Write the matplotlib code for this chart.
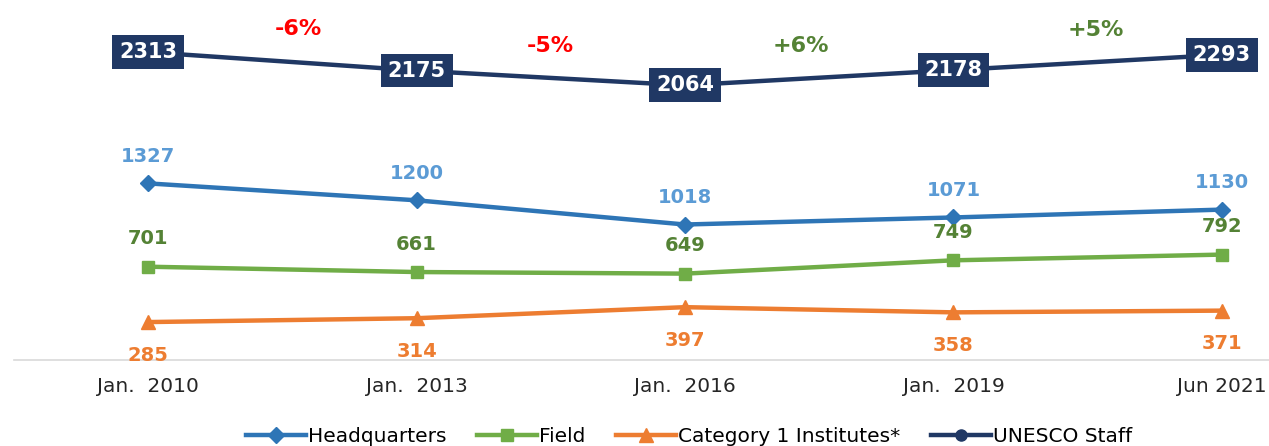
import matplotlib.pyplot as plt

periods = ["Jan.  2010", "Jan.  2013", "Jan.  2016", "Jan.  2019", "Jun 2021"]
headquarters = [1327, 1200, 1018, 1071, 1130]
field = [701, 661, 649, 749, 792]
institutes = [285, 314, 397, 358, 371]
staff = [2313, 2175, 2064, 2178, 2293]
changes = ["-6%", "-5%", "+6%", "+5%"]

NAVY = "#203864"
BLUE = "#2E75B6"
LBLUE = "#5B9BD5"
GREEN = "#70AD47"
DGREEN = "#548235"
ORANGE = "#ED7D31"
RED = "#FF0000"

plt.rcParams["font.family"] = ["DejaVu Sans"]

W, H = 1269, 446
fig = plt.figure(figsize=(W / 100, H / 100), dpi=100)
# plot area runs past the right edge of the picture, as in the source
ax = fig.add_axes([14 / W, (H - 360) / H, 1342 / W, 360 / H])

x = list(range(len(periods)))
ax.set_xlim(-0.5, len(periods) - 0.5)
ax.set_ylim(0, 2705)

ax.plot(x, headquarters, color=BLUE, lw=3.2, marker="D", ms=8, label="Headquarters")
ax.plot(x, field, color=GREEN, lw=3.2, marker="s", ms=9, label="Field")
ax.plot(x, institutes, color=ORANGE, lw=3.2, marker="^", ms=10, label="Category 1 Institutes*")
ax.plot(x, staff, color=NAVY, lw=3.2, marker="o", ms=8, label="UNESCO Staff")

for i in x:
    ax.annotate(str(headquarters[i]), (i, headquarters[i]), xytext=(0, 27),
                textcoords="offset pixels", ha="center", va="center",
                color=LBLUE, fontsize=14, fontweight="bold")
    ax.annotate(str(field[i]), (i, field[i]), xytext=(0, 28),
                textcoords="offset pixels", ha="center", va="center",
                color=DGREEN, fontsize=14, fontweight="bold")
    ax.annotate(str(institutes[i]), (i, institutes[i]), xytext=(0, -33),
                textcoords="offset pixels", ha="center", va="center",
                color=ORANGE, fontsize=14, fontweight="bold")
    ax.text(i, staff[i], str(staff[i]), ha="center", va="center", color="white",
            fontsize=15, fontweight="bold", zorder=5,
            bbox=dict(boxstyle="square,pad=0.33", fc=NAVY, ec="none"))

offs = [0.06, 0.0, -0.07, 0.03]
for i, lab in enumerate(changes):
    col = RED if lab.startswith("-") else DGREEN
    ax.annotate(lab, (i + 0.5 + offs[i], (staff[i] + staff[i + 1]) / 2), xytext=(0, 32),
                textcoords="offset pixels", ha="center", va="center",
                color=col, fontsize=16, fontweight="bold")

for s in ["top", "right", "left"]:
    ax.spines[s].set_visible(False)
ax.spines["bottom"].set_color("#D9D9D9")
ax.spines["bottom"].set_linewidth(1.2)
ax.set_yticks([])
ax.set_xticks(x)
ax.set_xticklabels(periods, fontsize=14.5, color="#262626")
ax.tick_params(axis="x", length=0, pad=12)

fig.legend(loc="center", bbox_to_anchor=(689 / W, 1 - 437 / H), ncol=4,
           frameon=False, fontsize=14.5, handlelength=3.0, handletextpad=0.1,
           columnspacing=1.5)

fig.savefig("out.png", dpi=100)
